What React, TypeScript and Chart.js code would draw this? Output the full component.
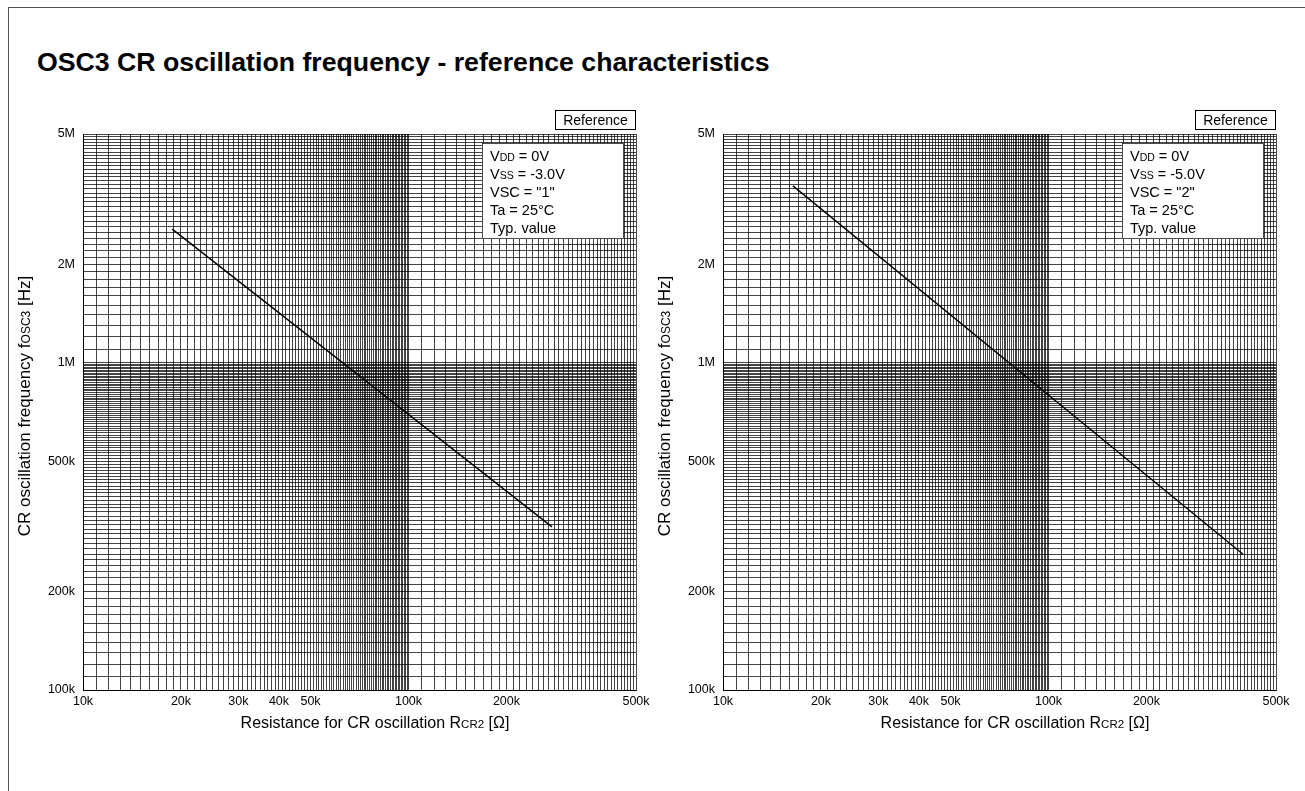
import React, { useEffect, useRef } from 'react';
import { Chart, registerables } from 'chart.js';

Chart.register(...registerables);

const FONT = '"Liberation Sans", Arial, Helvetica, sans-serif';

const TITLE = 'OSC3 CR oscillation frequency - reference characteristics';

// grid ranges: [from, to, step]
const xGridRanges: number[][] = [
  [10000, 100000, 1000],
  [100000, 500000, 10000],
];
const yGridRanges: number[][] = [
  [100000, 1000000, 10000],
  [1000000, 5000000, 100000],
];

const xTickValues = [10000, 20000, 30000, 40000, 50000, 100000, 200000, 500000];
const xTickLabels = ['10k', '20k', '30k', '40k', '50k', '100k', '200k', '500k'];
const yTickValues = [100000, 200000, 500000, 1000000, 2000000, 5000000];
const yTickLabels = ['100k', '200k', '500k', '1M', '2M', '5M'];

const leftResistance = [18800, 276000];
const leftFrequency = [2560000, 315000];
const rightResistance = [16400, 396000];
const rightFrequency = [3470000, 260000];

type Seg = { t: string; s?: boolean };

const leftConditions: Seg[][] = [
  [{ t: 'V' }, { t: 'DD', s: true }, { t: ' = 0V' }],
  [{ t: 'V' }, { t: 'SS', s: true }, { t: ' = -3.0V' }],
  [{ t: 'VSC = "1"' }],
  [{ t: 'Ta = 25°C' }],
  [{ t: 'Typ. value' }],
];
const rightConditions: Seg[][] = [
  [{ t: 'V' }, { t: 'DD', s: true }, { t: ' = 0V' }],
  [{ t: 'V' }, { t: 'SS', s: true }, { t: ' = -5.0V' }],
  [{ t: 'VSC = "2"' }],
  [{ t: 'Ta = 25°C' }],
  [{ t: 'Typ. value' }],
];

const xAxisTitle: Seg[] = [
  { t: 'Resistance for CR oscillation R' },
  { t: 'CR2', s: true },
  { t: ' [Ω]' },
];
const yAxisTitle: Seg[] = [
  { t: 'CR oscillation frequency f' },
  { t: 'OSC3', s: true },
  { t: ' [Hz]' },
];
const badgeText = 'Reference';

function gridValues(ranges: number[][]): number[] {
  const out: number[] = [];
  for (const [a, b, st] of ranges) {
    for (let v = a; v <= b; v += st) {
      if (!out.includes(v)) out.push(v);
    }
  }
  return out;
}

function drawSegs(
  ctx: CanvasRenderingContext2D,
  segs: Seg[],
  x: number,
  y: number,
  size: number,
  small: number,
  align: 'left' | 'center'
) {
  const widths: number[] = [];
  let total = 0;
  for (const s of segs) {
    ctx.font = `${s.s ? small : size}px ${FONT}`;
    const w = ctx.measureText(s.t).width;
    widths.push(w);
    total += w;
  }
  let cx = align === 'center' ? x - total / 2 : x;
  ctx.textAlign = 'left';
  ctx.textBaseline = 'alphabetic';
  segs.forEach((s, i) => {
    ctx.font = `${s.s ? small : size}px ${FONT}`;
    ctx.fillText(s.t, cx, y);
    cx += widths[i];
  });
}

function Panel(props: {
  left: number;
  resistance: number[];
  frequency: number[];
  conditions: Seg[][];
}) {
  const ref = useRef<HTMLCanvasElement | null>(null);

  useEffect(() => {
    if (!ref.current) return;
    const xGrid = gridValues(xGridRanges);
    const yGrid = gridValues(yGridRanges);
    const points = props.resistance.map((r, i) => ({ x: r, y: props.frequency[i] }));

    const decor = {
      id: 'decor',
      beforeDatasetsDraw(chart: any) {
        const { ctx, chartArea } = chart;
        const { right, top } = chartArea;
        ctx.save();
        // condition box
        const bx = right - 154;
        const by = top + 9;
        ctx.fillStyle = '#fff';
        ctx.fillRect(bx, by, 142, 96);
        ctx.strokeStyle = '#222';
        ctx.lineWidth = 0.8;
        ctx.strokeRect(bx + 0.5, by + 0.5, 141, 95);
        ctx.fillStyle = '#000';
        props.conditions.forEach((line, i) => {
          drawSegs(ctx, line, bx + 8, top + 27 + i * 18, 14.5, 10.5, 'left');
        });
        ctx.restore();
      },
      afterDraw(chart: any) {
        const { ctx, chartArea } = chart;
        const { left, top, bottom, right } = chartArea;
        ctx.save();
        // Reference badge
        ctx.fillStyle = '#fff';
        ctx.fillRect(right - 81, top - 24, 80, 19);
        ctx.strokeStyle = '#000';
        ctx.lineWidth = 1;
        ctx.strokeRect(right - 80.5, top - 23.5, 80, 19);
        ctx.fillStyle = '#000';
        drawSegs(ctx, [{ t: badgeText }], right - 40.5, top - 9, 14, 10, 'center');
        // x axis title
        drawSegs(ctx, xAxisTitle, left + 292, bottom + 38, 16, 11.5, 'center');
        // y axis title
        ctx.translate(left - 53, (top + bottom) / 2 - 6);
        ctx.rotate(-Math.PI / 2);
        drawSegs(ctx, yAxisTitle, 0, 0, 17, 12, 'center');
        ctx.restore();
      },
    };

    const chart = new Chart(ref.current, {
      type: 'scatter',
      data: {
        datasets: [
          {
            data: points,
            showLine: true,
            borderColor: '#000',
            borderWidth: 1.4,
            pointRadius: 0,
            pointHoverRadius: 0,
          },
        ],
      },
      options: {
        animation: false,
        responsive: false,
        devicePixelRatio: 1,
        events: [],
        layout: { padding: { top: 134, right: 24, left: 0, bottom: 0 } },
        plugins: {
          legend: { display: false },
          tooltip: { enabled: false },
          title: { display: false },
        },
        scales: {
          x: {
            type: 'logarithmic',
            min: 10000,
            max: 500000,
            afterBuildTicks: (scale: any) => {
              scale.ticks = xGrid.map((v) => ({ value: v }));
            },
            afterFit: (scale: any) => {
              scale.height = 101;
            },
            ticks: {
              autoSkip: false,
              maxRotation: 0,
              minRotation: 0,
              padding: 4,
              color: '#000',
              font: { family: FONT, size: 12.5 },
              callback: (v: any) => {
                const i = xTickValues.indexOf(Number(v));
                return i >= 0 ? xTickLabels[i] : '';
              },
            },
            grid: { color: 'rgba(0,0,0,0.92)', lineWidth: 0.8, drawTicks: false },
            border: { color: '#000', width: 1 },
          },
          y: {
            type: 'logarithmic',
            min: 100000,
            max: 5000000,
            afterBuildTicks: (scale: any) => {
              scale.ticks = yGrid.map((v) => ({ value: v }));
            },
            afterFit: (scale: any) => {
              scale.width = 83;
            },
            ticks: {
              autoSkip: false,
              padding: 8,
              color: '#000',
              font: { family: FONT, size: 12.5 },
              callback: (v: any) => {
                const i = yTickValues.indexOf(Number(v));
                return i >= 0 ? yTickLabels[i] : '';
              },
            },
            grid: { color: 'rgba(0,0,0,0.92)', lineWidth: 0.8, drawTicks: false },
            border: { color: '#000', width: 1 },
          },
        },
      } as any,
      plugins: [decor],
    });
    return () => chart.destroy();
  }, []);

  return (
    <canvas
      ref={ref}
      width={660}
      height={791}
      style={{ position: 'absolute', left: props.left, top: 0, width: 660, height: 791 }}
    />
  );
}

export default function App() {
  return (
    <div
      style={{
        position: 'fixed',
        left: 0,
        top: 0,
        width: 1305,
        height: 791,
        background: '#fff',
        overflow: 'hidden',
        fontFamily: FONT,
      }}
    >
      <div
        style={{
          position: 'absolute',
          left: 8,
          top: 7,
          width: 1320,
          height: 800,
          borderTop: '1px solid #555',
          borderLeft: '1px solid #555',
        }}
      />
      <div
        style={{
          position: 'absolute',
          left: 37,
          top: 49,
          fontSize: 26.7,
          lineHeight: '26px',
          fontWeight: 'bold',
          color: '#000',
          whiteSpace: 'nowrap',
        }}
      >
        {TITLE}
      </div>
      <Panel left={0} resistance={leftResistance} frequency={leftFrequency} conditions={leftConditions} />
      <Panel left={640} resistance={rightResistance} frequency={rightFrequency} conditions={rightConditions} />
    </div>
  );
}
